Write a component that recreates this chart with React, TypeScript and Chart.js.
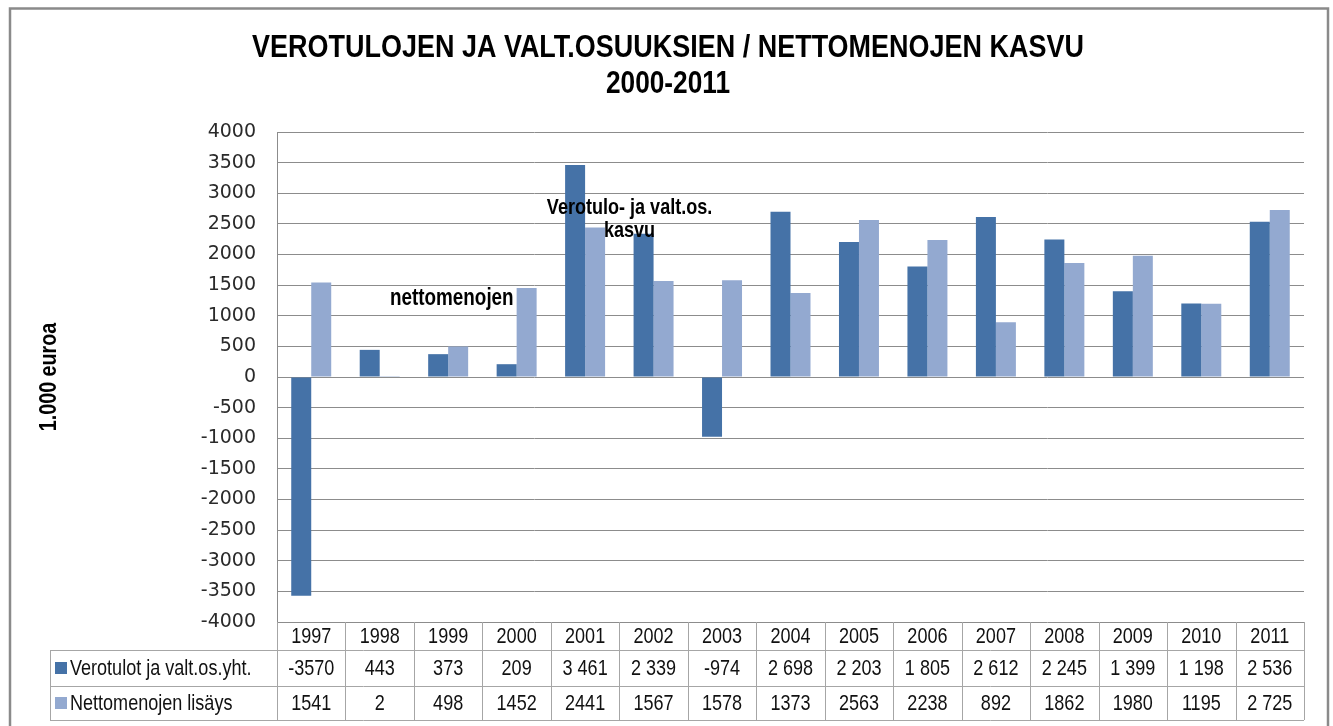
import React, { useEffect, useRef } from "react";
import { Chart, registerables } from "chart.js";

Chart.register(...registerables);

const years = ["1997", "1998", "1999", "2000", "2001", "2002", "2003", "2004", "2005", "2006", "2007", "2008", "2009", "2010", "2011"];
const verotulot = [-3570, 443, 373, 209, 3461, 2339, -974, 2698, 2203, 1805, 2612, 2245, 1399, 1198, 2536];
const nettomenot = [1541, 2, 498, 1452, 2441, 1567, 1578, 1373, 2563, 2238, 892, 1862, 1980, 1195, 2725];
const verotulotLabels = ["-3570", "443", "373", "209", "3 461", "2 339", "-974", "2 698", "2 203", "1 805", "2 612", "2 245", "1 399", "1 198", "2 536"];
const nettomenotLabels = ["1541", "2", "498", "1452", "2441", "1567", "1578", "1373", "2563", "2238", "892", "1862", "1980", "1195", "2 725"];
const seriesNames = ["Verotulot ja valt.os.yht.", "Nettomenojen lisäys"];
const titleLines = ["VEROTULOJEN JA VALT.OSUUKSIEN / NETTOMENOJEN KASVU", "2000-2011"];
const yAxisTitle = "1.000 euroa";
const yMin = -4000;
const yMax = 4000;
const yStep = 500;

const DARK = "#4572A7";
const LIGHT = "#93A9D0";
const NARROW = 0.82;

function narrowText(ctx: CanvasRenderingContext2D, t: string, x: number, y: number, font: string, align: CanvasTextAlign, sx = NARROW, color = "#000") {
  ctx.save();
  ctx.font = font;
  ctx.fillStyle = color;
  ctx.textAlign = align;
  ctx.textBaseline = "middle";
  ctx.translate(x, y);
  ctx.scale(sx, 1);
  ctx.fillText(t, 0, 0);
  ctx.restore();
}

const decorPlugin = {
  id: "decor",
  afterDraw(chart: any) {
    const ctx: CanvasRenderingContext2D = chart.ctx;
    const { left, right, bottom } = chart.chartArea;
    const xs = chart.scales.x;
    const ys = chart.scales.y;
    const n = years.length;
    const cw = (right - left) / n;
    ctx.save();
    // outer border
    ctx.strokeStyle = "#8a8a8a";
    ctx.lineWidth = 2.5;
    ctx.strokeRect(10, 8.5, 1318, 760);

    // title
    const tf = 'bold 32px "Liberation Sans", Arial, sans-serif';
    narrowText(ctx, titleLines[0], 668, 48, tf, "center", 0.843);
    narrowText(ctx, titleLines[1], 668, 84, tf, "center");

    // y axis title
    ctx.save();
    ctx.translate(49, ys.getPixelForValue(0));
    ctx.rotate(-Math.PI / 2);
    narrowText(ctx, yAxisTitle, 0, 0, 'bold 24px "Liberation Sans", Arial, sans-serif', "center");
    ctx.restore();

    // annotations
    const af = 'bold 23px "Liberation Sans", Arial, sans-serif';
    narrowText(ctx, "nettomenojen", xs.getPixelForValue(3) - 3, ys.getPixelForValue(1280), af, "right");
    narrowText(ctx, "Verotulo- ja valt.os.", xs.getPixelForValue(5) - 24, ys.getPixelForValue(2760), 'bold 22px "Liberation Sans", Arial, sans-serif', "center");
    narrowText(ctx, "kasvu", xs.getPixelForValue(5) - 24, ys.getPixelForValue(2380), 'bold 22px "Liberation Sans", Arial, sans-serif', "center");

    // data table
    const r0 = bottom;
    const r1 = 650;
    const r2 = 686;
    const r3 = 720;
    const legLeft = 50;
    ctx.strokeStyle = "#a6a6a6";
    ctx.lineWidth = 1;
    ctx.beginPath();
    for (let i = 0; i <= n; i++) {
      const xx = Math.round(left + i * cw) + 0.5;
      ctx.moveTo(xx, r0);
      ctx.lineTo(xx, r3);
    }
    ctx.moveTo(legLeft + 0.5, r1);
    ctx.lineTo(legLeft + 0.5, r3);
    for (const yy of [r1, r2, r3]) {
      ctx.moveTo(legLeft, yy + 0.5);
      ctx.lineTo(right, yy + 0.5);
    }
    ctx.stroke();

    const tfont = '22px "Liberation Sans", Arial, sans-serif';
    for (let i = 0; i < n; i++) {
      const cx = xs.getPixelForValue(i);
      narrowText(ctx, years[i], cx, (r0 + r1) / 2 + 1, tfont, "center", NARROW, "#111");
      narrowText(ctx, verotulotLabels[i], cx, (r1 + r2) / 2 + 1, tfont, "center", NARROW, "#111");
      narrowText(ctx, nettomenotLabels[i], cx, (r2 + r3) / 2 + 1, tfont, "center", NARROW, "#111");
    }
    // legend keys
    ctx.fillStyle = DARK;
    ctx.fillRect(55, (r1 + r2) / 2 - 6, 12, 12);
    ctx.fillStyle = LIGHT;
    ctx.fillRect(55, (r2 + r3) / 2 - 6, 12, 12);
    narrowText(ctx, seriesNames[0], 70, (r1 + r2) / 2 + 1, tfont, "left", NARROW, "#111");
    narrowText(ctx, seriesNames[1], 70, (r2 + r3) / 2 + 1, tfont, "left", NARROW, "#111");
    ctx.restore();
  },
};

export default function App() {
  const ref = useRef<HTMLCanvasElement | null>(null);
  useEffect(() => {
    document.body.style.margin = "0";
    const canvas = ref.current;
    if (!canvas) return;
    const chart = new Chart(canvas, {
      type: "bar",
      data: {
        labels: years,
        datasets: [
          { label: seriesNames[0], data: verotulot, backgroundColor: DARK, borderWidth: 0 },
          { label: seriesNames[1], data: nettomenot, backgroundColor: LIGHT, borderWidth: 0 },
        ],
      },
      options: {
        responsive: false,
        animation: false,
        devicePixelRatio: 1,
        layout: { padding: { left: 0, right: 29, top: 132, bottom: 104 } },
        datasets: { bar: { categoryPercentage: 0.584, barPercentage: 1 } },
        plugins: {
          legend: { display: false },
          title: { display: false },
          tooltip: { enabled: false },
        },
        scales: {
          x: { display: false },
          y: {
            min: yMin,
            max: yMax,
            ticks: {
              stepSize: yStep,
              padding: 21,
              color: "#2a2a2a",
              font: { family: '"DejaVu Sans", sans-serif', size: 19 },
              callback: (v: any) => String(v),
            },
            grid: { color: "#8c8c8c", drawTicks: false, lineWidth: 1 },
            border: { color: "#8c8c8c", width: 1 },
            afterFit(scale: any) {
              scale.width = 277;
            },
          },
        },
      },
      plugins: [decorPlugin],
    } as any);
    return () => chart.destroy();
  }, []);
  return (
    <div style={{ width: 1333, height: 726, background: "#fff" }}>
      <canvas ref={ref} width={1333} height={726} style={{ display: "block" }} />
    </div>
  );
}
